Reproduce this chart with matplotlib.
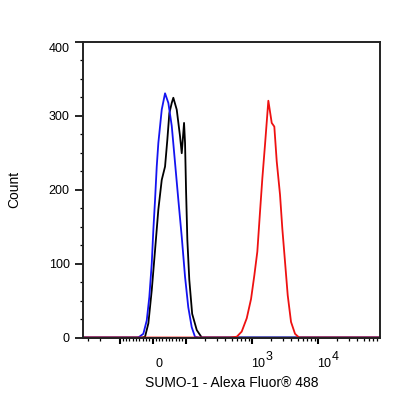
import numpy as np
import matplotlib
matplotlib.use("Agg")
import matplotlib.pyplot as plt
from matplotlib.transforms import ScaledTranslation, blended_transform_factory

plt.rcParams['font.family'] = ['Liberation Sans', 'DejaVu Sans']

# histogram traces (fluorescence, count)
blue_x = [-358, -43, -27.9, -17.6, -9.7, -2.4, 2.4, 7.6, 12.7, 17.6, 20.6, 27.9, 37.9,
          47.9, 58.2, 68.2, 78.2, 88.5, 98.5, 110, 124, 139, 160, 88500]
blue_y = [0, 0, 5, 23, 55, 100, 145, 186, 231, 263, 276, 308, 330,
          317, 286, 236, 186, 136, 82, 41, 14, 1, 0, 0]

black_x = [-358, -30, -22.7, -12.7, -2.4, 7.6, 17.6, 27.9, 37.9, 44.8, 50.9, 58.2, 63,
           73.3, 83.3, 88.5, 95.5, 98.5, 101.8, 106.5, 114, 126, 148, 176, 88500]
black_y = [0, 0, 1, 19, 64, 118, 173, 213, 231, 267, 303, 317, 324,
           308, 272, 249, 290, 263, 199, 132, 78, 32, 10, 0, 0]

red_x = [-358, 472, 597, 710, 846, 983, 1103, 1224, 1345, 1458, 1602, 1798, 2023,
         2215, 2409, 2702, 2929, 3219, 3535, 3967, 4561, 5244, 88500]
red_y = [0, 0, 1, 8, 26, 52, 84, 116, 170, 215, 261, 320, 290,
         285, 238, 193, 147, 102, 57, 21, 5, 0, 0]

major_x = [-100, 0, 100, 1000, 10000]
minor_x = ([-300, -200] + list(range(-90, 0, 10)) + list(range(10, 100, 10))
           + list(range(200, 1000, 100)) + list(range(2000, 10000, 1000))
           + list(range(20000, 90000, 10000)))
exp_labels = {1000: '3', 10000: '4'}

fig = plt.figure(figsize=(4.16, 4.16), dpi=100)
ax = fig.add_axes([0.1995, 0.1887, 0.714, 0.7115])

ax.plot(black_x, black_y, color='black', lw=1.3, clip_on=False, solid_joinstyle='round')
ax.plot(blue_x, blue_y, color='#1414f0', lw=1.3, clip_on=False, solid_joinstyle='round')
ax.plot(red_x, red_y, color='#ee1111', lw=1.3, clip_on=False, solid_joinstyle='round')

ax.set_xscale('symlog', linthresh=100, linscale=0.45)
ax.set_xlim(-358, 88500)
ax.set_ylim(0, 400)

ax.set_xticks(major_x)
ax.set_xticks(minor_x, minor=True)
ax.set_xticklabels([])
ax.tick_params(axis='x', which='major', direction='out', length=4, width=1.5)
ax.tick_params(axis='x', which='minor', direction='out', length=2.5, width=0.9)

# x tick labels drawn by hand, offset like the reference
trans = blended_transform_factory(ax.transData, ax.transAxes)
px = lambda dx, dy: ScaledTranslation(dx / 100, dy / 100, fig.dpi_scale_trans)
ax.text(0, -0.1, '0', transform=trans + px(6, 0), ha='center', va='baseline', fontsize=9)
for v, e in exp_labels.items():
    ax.text(v, -0.1, '10', transform=trans + px(0, 0), ha='left', va='baseline', fontsize=9)
    ax.text(v, -0.1, e, transform=trans + px(14, 7), ha='left', va='baseline', fontsize=9)

ax.set_yticks([0, 100, 200, 300, 400])
ax.set_yticks(np.arange(0, 401, 25), minor=True)
ax.tick_params(axis='y', which='major', direction='out', length=5.5, width=1.2,
               labelsize=9, pad=4)
ax.tick_params(axis='y', which='minor', direction='out', length=2.4, width=0.9)
fig.canvas.draw()
for lbl in ax.get_yticklabels():
    if lbl.get_text() == '400':
        lbl.set_transform(lbl.get_transform() + px(0, -6))

for sp in ax.spines.values():
    sp.set_linewidth(1.4)
    sp.set_color('#222222')

ax.set_ylabel('Count', fontsize=10, labelpad=20)
ax.set_xlabel('SUMO-1 - Alexa Fluor® 488', fontsize=10, labelpad=20)

fig.savefig('out.png', dpi=100)
